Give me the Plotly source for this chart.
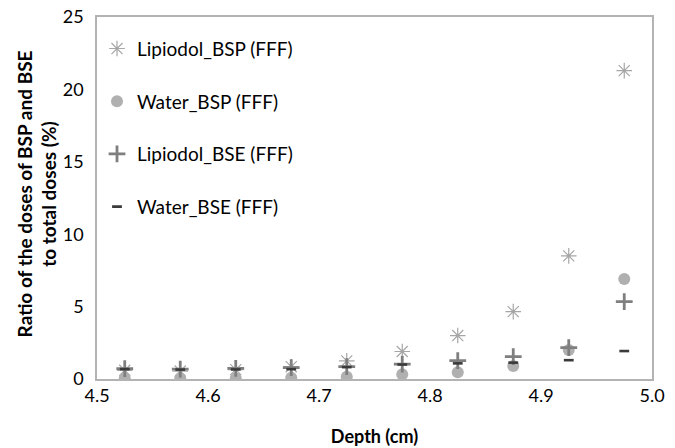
import plotly.graph_objects as go

depth = [4.525, 4.575, 4.625, 4.675, 4.725, 4.775, 4.825, 4.875, 4.925, 4.975]
lipiodol_bsp = [0.6, 0.55, 0.65, 0.85, 1.25, 1.9, 3.0, 4.65, 8.5, 21.3]
water_bsp = [0.05, 0.05, 0.06, 0.08, 0.16, 0.32, 0.46, 0.9, 2.0, 6.9]
lipiodol_bse = [0.72, 0.68, 0.74, 0.78, 0.85, 1.03, 1.27, 1.55, 2.17, 5.35]
water_bse = [0.68, 0.65, 0.66, 0.68, 0.82, 1.0, 1.08, 1.13, 1.3, 1.93]

x_ticks = [4.5, 4.6, 4.7, 4.8, 4.9, 5.0]
x_labels = ["4.5", "4.6", "4.7", "4.8", "4.9", "5.0"]
y_ticks = [0, 5, 10, 15, 20, 25]
y_title = "<b>Ratio of the doses of BSP and BSE<br>to total doses (%)</b>"

FONT = "Lato"

fig = go.Figure()
fig.add_trace(go.Scatter(
    x=depth, y=lipiodol_bsp, mode="markers", name="Lipiodol_BSP (FFF)",
    legendgroup="a",
    marker=dict(symbol="asterisk-open", size=13, color="#a6a6a6",
                line=dict(color="#a6a6a6", width=1.2)),
))
fig.add_trace(go.Scatter(
    x=depth, y=water_bsp, mode="markers", name="Water_BSP (FFF)",
    legendgroup="b",
    marker=dict(symbol="circle", size=12, color="#b0b0b0"),
))
fig.add_trace(go.Scatter(
    x=depth, y=lipiodol_bse, mode="markers", name="Lipiodol_BSE (FFF)",
    legendgroup="c",
    marker=dict(symbol="cross-thin-open", size=12, color="#7f7f7f",
                line=dict(color="#7f7f7f", width=2.8)),
))
fig.add_trace(go.Scatter(
    x=depth, y=water_bse, mode="markers", name="Water_BSE (FFF)",
    legendgroup="d",
    marker=dict(symbol="line-ew-open", size=7, color="#3a3a3a",
                line=dict(color="#3a3a3a", width=2.6)),
))

fig.update_layout(
    width=675, height=448,
    margin=dict(l=97, r=23, t=17, b=69),
    paper_bgcolor="white", plot_bgcolor="white",
    font=dict(family=FONT, color="#000000"),
    showlegend=True,
    legend=dict(x=0.0, y=0.965, xanchor="left", yanchor="top",
                bgcolor="rgba(0,0,0,0)", tracegroupgap=25,
                font=dict(family=FONT, size=19, color="#000000"),
                itemsizing="trace"),
    xaxis=dict(range=[4.5, 5.0], tickvals=x_ticks, ticktext=x_labels,
               automargin=False,
               showgrid=False, zeroline=False, showline=True,
               linecolor="#b3b3b3", linewidth=1.5, mirror=True, ticks="",
               tickfont=dict(family=FONT, size=18, color="#000000"),
               title=dict(text="<b>Depth (cm)</b>", standoff=25,
                          font=dict(family=FONT, size=18, color="#000000"))),
    yaxis=dict(range=[0, 25], tickvals=y_ticks,
               automargin=False,
               showgrid=False, zeroline=False, showline=True,
               linecolor="#b3b3b3", linewidth=1.5, mirror=True, ticks="",
               ticklabelstandoff=8,
               tickfont=dict(family=FONT, size=18, color="#000000")),
    annotations=[dict(
        text=y_title, textangle=-90, xref="paper", yref="paper",
        x=-0.108, y=0.51, xanchor="center", yanchor="middle",
        showarrow=False, align="center",
        font=dict(family=FONT, size=19, color="#000000"),
    )],
)

fig.write_html("out.html", config={"displayModeBar": False},
               post_script="document.body.style.margin='0';")
